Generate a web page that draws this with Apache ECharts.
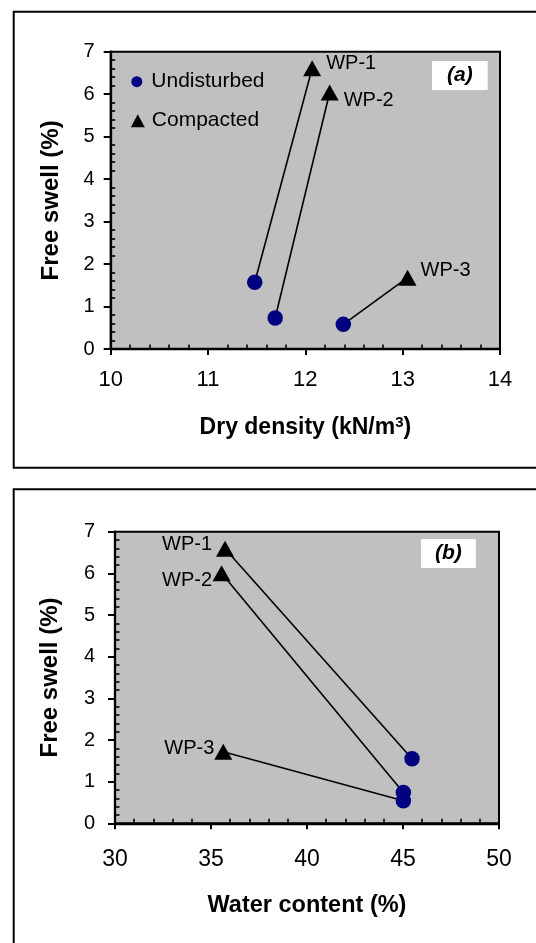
<!DOCTYPE html>
<html>
<head>
<meta charset="utf-8">
<script src="https://cdn.jsdelivr.net/npm/echarts@6/dist/echarts.min.js"></script>
<style>
html,body{margin:0;padding:0;background:#fff;}
#chart{width:536px;height:943px;}
</style>
</head>
<body>
<div id="chart"></div>
<script>
// ---- data ----
const wpNames = ['WP-1', 'WP-2', 'WP-3'];
// (a) Free swell vs dry density
const densityUndisturbed = [11.48, 11.69, 12.39];
const swellUndisturbedA = [1.57, 0.73, 0.58];
const densityCompacted = [12.07, 12.25, 13.05];
const swellCompactedA = [6.61, 6.04, 1.68];
// (b) Free swell vs water content
const waterUndisturbed = [45.47, 45.02, 45.02];
const swellUndisturbedB = [1.55, 0.74, 0.54];
const waterCompacted = [35.73, 35.55, 35.64];
const swellCompactedB = [6.59, 6.0, 1.72];
// tick labels
const densityTicks = [10, 11, 12, 13, 14];
const waterTicks = [30, 35, 40, 45, 50];
const swellTicks = [0, 1, 2, 3, 4, 5, 6, 7];

// ---- styles ----
const FONT = '"Liberation Sans", Arial, sans-serif';
const labelStyleA = [
  { position: 'right', distance: 5, offset: [0, -5] },
  { position: 'right', distance: 5, offset: [0, 8] },
  { position: 'right', distance: 4, offset: [0, -7] }
];
const labelStyleB = [
  { position: 'left', distance: 4, offset: [0, -4] },
  { position: 'left', distance: 0.5, offset: [0, 7] },
  { position: 'left', distance: 0, offset: [0, -3] }
];

function pairs(xs, ys) { return xs.map((x, i) => [x, ys[i]]); }

function valueAxis(grid, ticks, name, nameGap, margin, isX, splits, nameSize, labelSize, nameRich) {
  const step = ticks[1] - ticks[0];
  return {
    type: 'value', gridIndex: grid,
    position: isX ? 'bottom' : 'left',
    min: ticks[0], max: ticks[ticks.length - 1], interval: step,
    name: name, nameLocation: 'middle', nameGap: nameGap,
    nameRotate: isX ? 0 : 90,
    nameTextStyle: Object.assign({
      fontFamily: FONT, fontSize: nameSize, fontWeight: 'bold', color: '#000', lineHeight: nameSize + 2
    }, nameRich ? { rich: nameRich } : {}),
    axisLine: { show: true, onZero: false, lineStyle: { color: '#000', width: 2.3 } },
    axisTick: { show: true, inside: false, length: isX ? 6 : 7, lineStyle: { color: '#000', width: 2 } },
    minorTick: { show: true, splitNumber: splits, length: -4.5, lineStyle: { color: '#000', width: 1.6 } },
    axisLabel: { show: true, margin: margin, fontFamily: FONT, fontSize: labelSize, color: '#000' },
    splitLine: { show: false },
    minorSplitLine: { show: false }
  };
}

const supRich = {
  sup: { fontFamily: FONT, fontSize: 15, fontWeight: 'bold', color: '#000', lineHeight: 14, verticalAlign: 'top' }
};

const option = {
  animation: false,
  backgroundColor: '#fff',
  grid: [
    { left: 110.7, top: 51.7, width: 389.3, height: 297.3, show: true, backgroundColor: '#c0c0c0', borderColor: '#000', borderWidth: 2 },
    { left: 115, top: 531.7, width: 384, height: 291.6, show: true, backgroundColor: '#c0c0c0', borderColor: '#000', borderWidth: 2 }
  ],
  xAxis: [
    valueAxis(0, densityTicks, 'Dry density (kN/m{sup|3})', 66, 20, true, 5, 23, 22, supRich),
    valueAxis(1, waterTicks, 'Water content (%)', 69, 25, true, 5, 23.5, 23)
  ],
  yAxis: [
    valueAxis(0, swellTicks, 'Free swell (%)', 46, 16, false, 5, 24, 20),
    valueAxis(1, swellTicks, 'Free swell (%)', 52, 20, false, 5, 24, 20)
  ],
  title: [
    { text: '(a)', left: 432, top: 61, backgroundColor: '#fff', padding: [4, 15, 4, 15],
      textStyle: { fontFamily: FONT, fontSize: 21, fontWeight: 'bold', fontStyle: 'italic', color: '#000', lineHeight: 21 } },
    { text: '(b)', left: 421, top: 539, backgroundColor: '#fff', padding: [4, 14, 4, 14],
      textStyle: { fontFamily: FONT, fontSize: 21, fontWeight: 'bold', fontStyle: 'italic', color: '#000', lineHeight: 21 } }
  ],
  legend: [
    { data: ['Undisturbed'], left: 131.3, top: 70.7, padding: 0, orient: 'vertical', icon: 'circle',
      itemWidth: 11, itemHeight: 11, selectedMode: false,
      textStyle: { fontFamily: FONT, fontSize: 21, color: '#000', lineHeight: 22, padding: [0, 0, 0, 4] } },
    { data: ['Compacted'], left: 130.8, top: 109.7, padding: 0, orient: 'vertical', icon: 'triangle',
      itemWidth: 14, itemHeight: 13, selectedMode: false,
      textStyle: { fontFamily: FONT, fontSize: 21, color: '#000', lineHeight: 22, padding: [0, 0, 0, 2] } }
  ],
  graphic: [
    { type: 'rect', shape: { x: 13.7, y: 11.7, width: 600, height: 456 }, style: { fill: 'none', stroke: '#000', lineWidth: 2 }, z: 100 },
    { type: 'rect', shape: { x: 13.7, y: 489.3, width: 600, height: 500 }, style: { fill: 'none', stroke: '#000', lineWidth: 2 }, z: 100 }
  ],
  series: []
};

function addChart(grid, ux, uy, cx, cy, labelStyles) {
  wpNames.forEach((n, i) => {
    option.series.push({
      type: 'line', xAxisIndex: grid, yAxisIndex: grid, symbol: 'none', silent: true,
      data: [[ux[i], uy[i]], [cx[i], cy[i]]],
      lineStyle: { color: '#000', width: 1.6 }, z: 2
    });
  });
  option.series.push({
    name: 'Undisturbed', type: 'scatter', xAxisIndex: grid, yAxisIndex: grid,
    symbol: 'circle', symbolSize: 15.5,
    itemStyle: { color: '#000080', opacity: 1 }, z: 3,
    data: pairs(ux, uy)
  });
  option.series.push({
    name: 'Compacted', type: 'scatter', xAxisIndex: grid, yAxisIndex: grid,
    symbol: 'triangle', symbolSize: [18, 16],
    itemStyle: { color: '#000', opacity: 1 }, z: 3,
    data: pairs(cx, cy).map((p, i) => ({
      value: p,
      label: Object.assign({ show: true, formatter: wpNames[i], fontFamily: FONT, fontSize: 20, color: '#000' }, labelStyles[i])
    }))
  });
}

addChart(0, densityUndisturbed, swellUndisturbedA, densityCompacted, swellCompactedA, labelStyleA);
addChart(1, waterUndisturbed, swellUndisturbedB, waterCompacted, swellCompactedB, labelStyleB);

const chart = echarts.init(document.getElementById('chart'), null, { renderer: 'canvas' });
chart.setOption(option);
</script>
</body>
</html>
